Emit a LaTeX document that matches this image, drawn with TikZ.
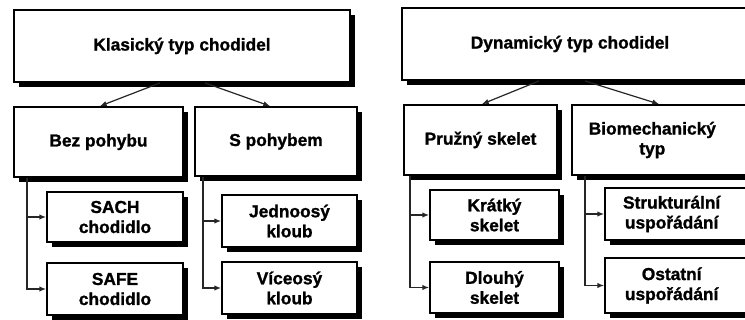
\documentclass[tikz,border=0pt]{standalone}
\usepackage{fontspec}
\setmainfont{Liberation Sans}[BoldFeatures={FakeBold=1.2}]
\usetikzlibrary{arrows.meta,shadows}
\begin{document}
\begin{tikzpicture}[x=0.75pt,y=-0.75pt,
  box/.style={draw=black, line width=1.4pt, fill=white, inner sep=0pt, align=center,
    font=\fontsize{13}{15}\selectfont\bfseries,
    general shadow={fill=black, shadow xshift=3.6pt, shadow yshift=-3.6pt}},
  conn/.style={draw=black!85, line width=0.9pt, -{Latex[length=5pt,width=4pt]}}
]
\useasboundingbox (0,0) rectangle (745,320);
\clip (0,0) rectangle (745,320);
% left group
\node[box, minimum width=336*0.75pt, minimum height=72*0.75pt] (K) at (182,46) {Klasický typ chodidel};
\node[box, minimum width=169*0.75pt, minimum height=70*0.75pt] (B) at (98.5,142) {Bez pohybu};
\node[box, minimum width=162*0.75pt, minimum height=69*0.75pt] (S) at (276,141.5) {S pohybem};
\node[box, minimum width=136*0.75pt, minimum height=50*0.75pt] (SACH) at (115,217) {SACH\\chodidlo};
\node[box, minimum width=136*0.75pt, minimum height=52*0.75pt] (SAFE) at (115,289) {SAFE\\chodidlo};
\node[box, minimum width=135*0.75pt, minimum height=52*0.75pt] (J) at (289.5,221) {Jednoosý\\kloub};
\node[box, minimum width=135*0.75pt, minimum height=52*0.75pt] (V) at (289.5,288) {Víceosý\\kloub};
% right group
\node[box, minimum width=360*0.75pt, minimum height=72*0.75pt] (D) at (582,44) {\hspace*{-18pt}Dynamický typ chodidel};
\node[box, minimum width=153*0.75pt, minimum height=70*0.75pt] (P) at (480.5,140) {Pružný skelet};
\node[box, minimum width=190*0.75pt, minimum height=70*0.75pt] (Bio) at (667,140) {\hspace*{-22pt}Biomechanický\\\hspace*{-22pt}typ};
\node[box, minimum width=129*0.75pt, minimum height=50*0.75pt] (Kr) at (494.5,215) {Krátký\\skelet};
\node[box, minimum width=129*0.75pt, minimum height=51*0.75pt] (Dl) at (494.5,287.5) {Dlouhý\\skelet};
\node[box, minimum width=160*0.75pt, minimum height=52*0.75pt] (Str) at (685,214) {\hspace*{-20pt}Strukturální\\\hspace*{-20pt}uspořádání};
\node[box, minimum width=160*0.75pt, minimum height=55*0.75pt] (Ost) at (685,285.5) {\hspace*{-20pt}Ostatní\\\hspace*{-20pt}uspořádání};
% connectors from the top boxes
\draw[conn] (K.south -| 160,0) -- (B.north -| 100,0);
\draw[conn] (K.south -| 205,0) -- (S.north -| 270,0);
\draw[conn] (D.south -| 539,0) -- (P.north -| 482,0);
\draw[conn] (D.south -| 585,0) -- (Bio.north -| 659,0);
% elbow connectors
\draw[conn] (B.south -| 27,0) |- (SACH.west);
\draw[conn] (B.south -| 27,0) |- (SAFE.west);
\draw[conn] (S.south -| 203,0) |- (J.west);
\draw[conn] (S.south -| 203,0) |- (V.west);
\draw[conn] (P.south -| 410,0) |- (Kr.west);
\draw[conn] (P.south -| 410,0) |- (Dl.west);
\draw[conn] (Bio.south -| 585,0) |- (Str.west);
\draw[conn] (Bio.south -| 585,0) |- (Ost.west);
\end{tikzpicture}
\end{document}
